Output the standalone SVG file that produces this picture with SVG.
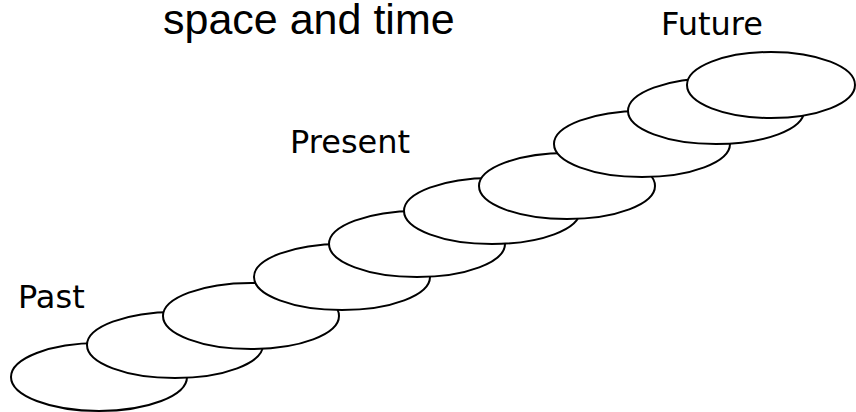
<svg xmlns="http://www.w3.org/2000/svg" width="856" height="412" viewBox="0 0 856 412">
<style>
.e{fill:#fff;stroke:#000;stroke-width:2}
.t{font-family:"DejaVu Sans",Verdana,sans-serif;font-size:32px;fill:#000}
.h{font-family:"Liberation Sans",Arial,sans-serif;font-size:43px;fill:#000}
</style>
<rect width="856" height="412" fill="#fff"/>
<text class="h" x="163" y="34">space and time</text>
<g id="ellipses">
<g id="e1"><ellipse class="e" cx="99" cy="377" rx="88" ry="34"/></g>
<g id="e2"><ellipse class="e" cx="175" cy="345" rx="88" ry="33"/></g>
<g id="e3"><ellipse class="e" cx="251" cy="316" rx="88" ry="33"/></g>
<g id="e4"><ellipse class="e" cx="342" cy="277" rx="88" ry="33"/></g>
<g id="e5"><ellipse class="e" cx="417" cy="244" rx="88" ry="33"/></g>
<g id="e6"><ellipse class="e" cx="492" cy="211" rx="88" ry="33"/></g>
<g id="e7"><ellipse class="e" cx="567" cy="186" rx="88" ry="33"/></g>
<g id="e8"><ellipse class="e" cx="642" cy="144" rx="88" ry="33"/></g>
<g id="e9"><ellipse class="e" cx="716" cy="111" rx="88" ry="33"/></g>
<g id="e10"><ellipse class="e" cx="771" cy="85" rx="84" ry="33"/></g>
</g>
<g id="labels">
<text class="t" x="18" y="308">Past</text>
<text class="t" x="290" y="153">Present</text>
<text class="t" x="661" y="35">Future</text>
</g>
</svg>
